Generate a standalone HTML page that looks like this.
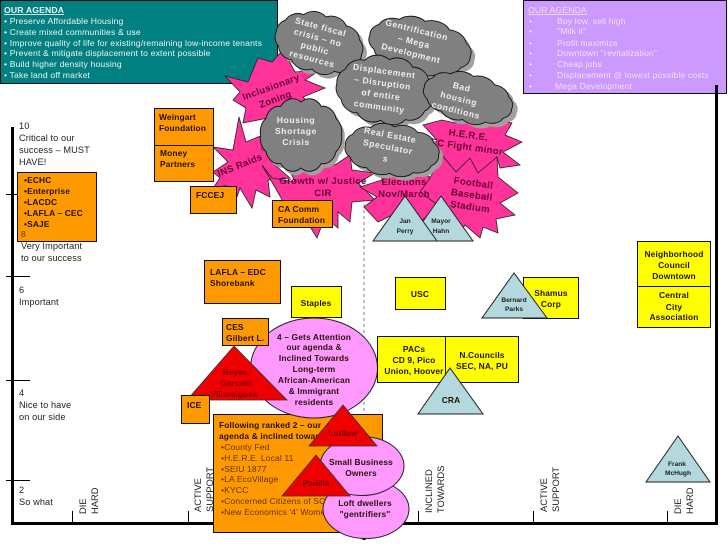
<!DOCTYPE html>
<html><head><meta charset="utf-8">
<style>
html,body{margin:0;padding:0;background:#fff;width:728px;height:546px;overflow:hidden}
svg{display:block}
text{font-family:"Liberation Sans",Arial,sans-serif}
.w{fill:#f2f2f2;font-size:8.65px;letter-spacing:.15px}
.p{fill:#eee0ff;font-size:8.6px;letter-spacing:.15px}
.l{fill:#222;font-size:9.2px;letter-spacing:.1px}
.b{fill:#221100;font-size:8.4px;font-weight:bold;letter-spacing:.15px}
.o{fill:#663300;font-size:8.6px;letter-spacing:.1px}
.c{text-anchor:middle}
.cw{fill:#eee;font-size:8.6px;font-weight:bold;text-anchor:middle;letter-spacing:.6px}
.s{fill:#660033;font-size:9.6px;font-weight:bold;text-anchor:middle;letter-spacing:.3px}
.t{fill:#222;font-size:6.6px;font-weight:bold;text-anchor:middle}
.r{fill:#222;font-size:9.4px}
.box{fill:#ff9900;stroke:#111;stroke-width:1}
.y{fill:#ffff00;stroke:#111;stroke-width:1}
.st{fill:#ff3399;stroke:#222;stroke-width:.8}
.tb{fill:#b3d8de;stroke:#222;stroke-width:1}
.tr{fill:#ee0000;stroke:#333;stroke-width:.8}
.el{fill:#ff99ff;stroke:#222;stroke-width:1}
.cl{fill:#808080;stroke:#111;stroke-width:.9}
.sh{fill:#a0a0a0;stroke:none}
</style></head><body>
<svg width="728" height="546" viewBox="0 0 728 546" xmlns="http://www.w3.org/2000/svg">
<defs>
<path id="c" vector-effect="non-scaling-stroke" d="M5 35A15 15 0 0 1 11 20A15 15 0 0 1 27.500 9A16 16 0 0 1 50 5A16 16 0 0 1 72.500 9A15 15 0 0 1 89 20A15 15 0 0 1 95 35A15 15 0 0 1 89 50A15 15 0 0 1 72.500 61A16 16 0 0 1 50 65A16 16 0 0 1 27.500 61A15 15 0 0 1 11 50A15 15 0 0 1 5 35Z"/>
</defs>
<rect width="728" height="546" fill="#fff"/>

<!-- axes -->
<g stroke="#000" fill="none">
<path d="M12.500 127V523.500H716.500V85" stroke-width="3"/>
<path d="M6 194.500H30M6 276.500H30M6 380.500H30M6 480.500H30" stroke-width="1"/>
<path d="M72.500 511V522M188.500 511V522M418.500 511V522M533.500 511V522M667.500 511V522" stroke-width="1"/>
<path d="M364 180V420" stroke="#aaa" stroke-width="1.500" stroke-dasharray="3 3"/>
<path d="M364 523V540" stroke-width="3"/>
</g>

<!-- axis labels -->
<g class="l">
<text x="19" y="129" class="l">10</text>
<text x="19" y="141" class="l">Critical to our</text>
<text x="19" y="153" class="l">success – MUST</text>
<text x="19" y="165" class="l">HAVE!</text>
<text x="21" y="249" class="l">Very Important</text>
<text x="21" y="261" class="l">to our success</text>
<text x="19" y="293" class="l">6</text>
<text x="19" y="305" class="l">Important</text>
<text x="19" y="396" class="l">4</text>
<text x="19" y="408" class="l">Nice to have</text>
<text x="19" y="420" class="l">on our side</text>
<text x="19" y="493" class="l">2</text>
<text x="19" y="505" class="l">So what</text>
</g>
<g class="r">
<text transform="translate(86 514) rotate(-90)" class="r">DIE</text>
<text transform="translate(98 514) rotate(-90)" class="r">HARD</text>
<text transform="translate(201 512) rotate(-90)" class="r">ACTIVE</text>
<text transform="translate(213 512) rotate(-90)" class="r">SUPPORT</text>
<text transform="translate(432 513) rotate(-90)" class="r">INCLINED</text>
<text transform="translate(444 513) rotate(-90)" class="r">TOWARDS</text>
<text transform="translate(547 512) rotate(-90)" class="r">ACTIVE</text>
<text transform="translate(559 512) rotate(-90)" class="r">SUPPORT</text>
<text transform="translate(681 514) rotate(-90)" class="r">DIE</text>
<text transform="translate(693 514) rotate(-90)" class="r">HARD</text>
</g>

<!-- agenda boxes -->
<rect x="0.500" y="0.500" width="277" height="83" fill="#008080" stroke="#111"/>
<g class="w">
<text x="4" y="13" font-weight="bold" text-decoration="underline" class="w">OUR AGENDA</text>
<text x="4" y="24" class="w">• Preserve Affordable Housing</text>
<text x="4" y="35" class="w">• Create mixed communities &amp; use</text>
<text x="4" y="46" class="w">• Improve quality of life for existing/remaining low-income tenants</text>
<text x="4" y="56" class="w">• Prevent &amp; mitigate displacement to extent possible</text>
<text x="4" y="67" class="w">• Build higher density housing</text>
<text x="4" y="78" class="w">• Take land off market</text>
</g>
<rect x="523.500" y="0.500" width="203" height="93" fill="#cc99ff" stroke="#111"/>
<g>
<text x="528" y="13" text-decoration="underline" class="p">OUR AGENDA</text>
<text x="529" y="24" class="p">•</text><text x="557" y="24" class="p">Buy low, sell high</text>
<text x="529" y="34" class="p">•</text><text x="557" y="34" class="p">"Milk it"</text>
<text x="529" y="46" class="p">•</text><text x="557" y="46" class="p">Profit maximize</text>
<text x="529" y="56" class="p">•</text><text x="557" y="56" class="p">Downtown "revitalization"</text>
<text x="529" y="67" class="p">•</text><text x="557" y="67" class="p">Cheap jobs</text>
<text x="529" y="78" class="p">•</text><text x="557" y="78" class="p">Displacement @ lowest possible costs</text>
<text x="529" y="89" class="p">•</text><text x="555" y="89" class="p">Mega Development</text>
</g>
<path d="M716.500 85V94" stroke="#000" stroke-width="3"/>

<!-- stars -->
<polygon class="st" points="225,76 248,82 258,58 272,62 283,50 295,72 320,70 305,80 325,88 303,97 315,110 292,108 285,125 268,118 243,123 246,108 233,100 240,92"/>
<polygon class="st" points="239,117 246,142 263,135 262,150 285,150 275,165 290,178 268,180 270,197 256,190 252,208 240,188 237,197 226,185 212,190 220,178 213,172 228,162 213,147 233,150"/>
<polygon class="st" points="272,178 295,182 285,160 310,170 320,150 335,165 350,155 352,170 375,173 358,183 375,200 352,202 350,222 338,212 338,228 325,217 317,238 306,220 292,205 290,215 280,196 262,165"/>
<polygon class="st" points="360,187 382,180 380,165 400,172 412,158 420,172 430,177 428,190 440,205 430,215 415,225 420,241 400,235 392,215 378,222 364,207 377,197"/>
<polygon class="st" points="423,125 442,120 455,123 470,115 480,125 495,118 512,123 505,135 522,142 503,152 520,165 500,168 497,157 480,185 455,172 442,155 445,162 432,150 437,140"/>
<polygon class="st" points="430,178 442,155 456,172 470,158 478,173 497,157 498,177 518,193 500,203 515,215 496,219 498,233 483,227 480,238 465,225 455,240 440,228 425,218 438,205 420,192"/>

<!-- star text -->
<text class="s" transform="translate(272 90) rotate(-20)"><tspan x="0" y="0">Inclusionary</tspan><tspan x="0" y="13">Zoning</tspan></text>
<text class="s" transform="translate(241 168) rotate(-22)">INS Raids</text>
<text class="s" x="323" y="184">Growth w/ Justice</text>
<text class="s" x="323" y="196">CIR</text>
<text class="s" x="404" y="185">Elections</text>
<text class="s" x="404" y="197">Nov/March</text>
<text class="s" transform="translate(468 138) rotate(8)"><tspan x="0" y="0">H.E.R.E.</tspan><tspan x="0" y="12">EC Fight minor</tspan></text>
<text class="s" transform="translate(473 186) rotate(8)"><tspan x="0" y="0">Football</tspan><tspan x="0" y="12">Baseball</tspan><tspan x="0" y="24">Stadium</tspan></text>

<!-- clouds -->
<use href="#c" class="sh" transform="translate(323 47) rotate(15) scale(.98 .9) translate(-50 -35)"/>
<use href="#c" class="cl" transform="translate(319 43) rotate(15) scale(.98 .9) translate(-50 -35)"/>
<use href="#c" class="sh" transform="translate(424 50) rotate(12) scale(1.14 .84) translate(-50 -35)"/>
<use href="#c" class="cl" transform="translate(420 46) rotate(12) scale(1.14 .84) translate(-50 -35)"/>
<use href="#c" class="sh" transform="translate(389 94) rotate(8) scale(1.08 1.02) translate(-50 -35)"/>
<use href="#c" class="cl" transform="translate(385 90) rotate(8) scale(1.08 1.02) translate(-50 -35)"/>
<use href="#c" class="sh" transform="translate(473 102) rotate(14) scale(1 .74) translate(-50 -35)"/>
<use href="#c" class="cl" transform="translate(468 98) rotate(14) scale(1 .74) translate(-50 -35)"/>
<use href="#c" class="sh" transform="translate(304 139) scale(.9 1.1) translate(-50 -35)"/>
<use href="#c" class="cl" transform="translate(301 135) scale(.9 1.1) translate(-50 -35)"/>
<use href="#c" class="sh" transform="translate(396 154) rotate(6) scale(1.04 .78) translate(-50 -35)"/>
<use href="#c" class="cl" transform="translate(392 150) rotate(6) scale(1.04 .78) translate(-50 -35)"/>

<text class="cw" transform="translate(322 22) rotate(15)"><tspan x="0" y="8">State fiscal</tspan><tspan x="0" y="19">crisis – no</tspan><tspan x="0" y="30">public</tspan><tspan x="0" y="41">resources</tspan></text>
<text class="cw" transform="translate(418 25) rotate(14)"><tspan x="0" y="8">Gentrification</tspan><tspan x="0" y="20">– Mega</tspan><tspan x="0" y="32">Development</tspan></text>
<text class="cw" transform="translate(385 66) rotate(8)"><tspan x="0" y="8">Displacement</tspan><tspan x="0" y="20">– Disruption</tspan><tspan x="0" y="32">of entire</tspan><tspan x="0" y="44">community</tspan></text>
<text class="cw" transform="translate(463 82) rotate(14)"><tspan x="0" y="8">Bad</tspan><tspan x="0" y="20">housing</tspan><tspan x="0" y="32">conditions</tspan></text>
<text class="cw" x="296" y="123">Housing</text>
<text class="cw" x="296" y="134">Shortage</text>
<text class="cw" x="296" y="145">Crisis</text>
<text class="cw" transform="translate(390 136) rotate(11)"><tspan x="0" y="2">Real Estate</tspan><tspan x="0" y="14">Speculator</tspan><tspan x="0" y="26">s</tspan></text>

<!-- orange boxes -->
<rect class="box" x="17.500" y="172.500" width="79" height="69"/>
<g class="b">
<text x="24" y="183" class="b">•ECHC</text>
<text x="24" y="194" class="b">•Enterprise</text>
<text x="24" y="205" class="b">•LACDC</text>
<text x="24" y="216" class="b">•LAFLA – CEC</text>
<text x="24" y="227" class="b">•SAJE</text>
</g>
<text x="21" y="237" class="o">8</text>
<rect class="box" x="154.500" y="108.500" width="59" height="37"/>
<rect class="box" x="154.500" y="145.500" width="59" height="36"/>
<text class="b" x="159" y="120">Weingart</text>
<text class="b" x="159" y="131">Foundation</text>
<text class="b" x="160" y="156">Money</text>
<text class="b" x="160" y="167">Partners</text>
<rect class="box" x="190.500" y="186.500" width="46" height="27"/>
<text class="b" x="196" y="198">FCCEJ</text>
<rect class="box" x="272.500" y="200.500" width="60" height="27"/>
<text class="b" x="278" y="212">CA Comm</text>
<text class="b" x="278" y="223">Foundation</text>
<rect class="box" x="204.500" y="260.500" width="76" height="43"/>
<text class="b" x="210" y="275">LAFLA – EDC</text>
<text class="b" x="210" y="286">Shorebank</text>

<!-- lower orange -->
<rect class="box" x="213.500" y="414.500" width="169" height="118"/>
<text class="b" x="219" y="428">Following ranked 2 – our</text>
<text class="b" x="219" y="439">agenda &amp; inclined towards</text>
<text class="o" x="221" y="450">•County Fed</text>
<text class="o" x="221" y="461">•H.E.R.E. Local 11</text>
<text class="o" x="221" y="472">•SEIU 1877</text>
<text class="o" x="221" y="482">•LA EcoVillage</text>
<text class="o" x="221" y="493">•KYCC</text>
<text class="o" x="221" y="504">•Concerned Citizens of SC</text>
<text class="o" x="221" y="515">•New Economics '4' Women</text>

<!-- ellipse 4 -->
<ellipse class="el" cx="314" cy="368" rx="63.500" ry="50"/>
<g class="b">
<text class="b c" x="314" y="340">4 – Gets Attention</text>
<text class="b c" x="314" y="350">our agenda &amp;</text>
<text class="b c" x="314" y="361">Inclined Towards</text>
<text class="b c" x="314" y="372">Long-term</text>
<text class="b c" x="314" y="383">African-American</text>
<text class="b c" x="314" y="394">&amp; Immigrant</text>
<text class="b c" x="314" y="405">residents</text>
</g>
<rect class="box" x="222.500" y="318.500" width="46" height="27"/>
<text class="b" x="226" y="330">CES</text>
<text class="b" x="226" y="341">Gilbert L.</text>
<polygon class="tr" points="234,346 187,400 287,400"/>
<g fill="#8a0000" font-size="8.400" font-weight="bold" text-anchor="middle">
<text x="236" y="375">Reyes,</text>
<text x="236" y="386">Garcetti</text>
<text x="234" y="397">Villaraigosa</text>
</g>
<rect class="box" x="181.500" y="395.500" width="28" height="28"/>
<text class="b" x="187" y="408">ICE</text>

<ellipse class="el" cx="366" cy="509" rx="43" ry="29.500"/>
<ellipse class="el" cx="362" cy="466" rx="42" ry="29.500"/>
<polygon class="tr" points="343,405 309,446 377,446"/>
<polygon class="tr" points="316,455 282,496 350,496"/>
<text x="343" y="436" fill="#7a0000" font-size="8.400" font-weight="bold" text-anchor="middle">Ludlow</text>
<text x="316" y="486" fill="#7a0000" font-size="8.400" font-weight="bold" text-anchor="middle">Padilla</text>
<text class="b c" x="361" y="465">Small Business</text>
<text class="b c" x="361" y="476">Owners</text>
<text class="b c" x="365" y="506">Loft dwellers</text>
<text class="b c" x="365" y="517">"gentrifiers"</text>

<!-- yellow boxes -->
<rect class="y" x="291.500" y="286.500" width="50" height="31"/>
<text class="b c" x="316" y="306">Staples</text>
<rect class="y" x="395.500" y="277.500" width="50" height="32"/>
<text class="b c" x="420" y="297">USC</text>
<rect class="y" x="523.500" y="277.500" width="55" height="41"/>
<text class="b c" x="551" y="296">Shamus</text>
<text class="b c" x="551" y="307">Corp</text>
<rect class="y" x="377.500" y="336.500" width="69" height="46"/>
<rect class="y" x="445.500" y="336.500" width="73" height="46"/>
<text class="b c" x="414" y="352">PACs</text>
<text class="b c" x="414" y="363">CD 9, Pico</text>
<text class="b c" x="414" y="374">Union, Hoover</text>
<text class="b c" x="482" y="358">N.Councils</text>
<text class="b c" x="482" y="369">SEC, NA, PU</text>
<rect class="y" x="637.500" y="241.500" width="73" height="45"/>
<rect class="y" x="637.500" y="286.500" width="73" height="41"/>
<text class="b c" x="674" y="257">Neighborhood</text>
<text class="b c" x="674" y="268">Council</text>
<text class="b c" x="674" y="279">Downtown</text>
<text class="b c" x="674" y="298">Central</text>
<text class="b c" x="674" y="310">City</text>
<text class="b c" x="674" y="320">Association</text>

<!-- blue triangles -->
<polygon class="tb" points="441,196 409,241 473,241"/>
<polygon class="tb" points="405,196 373,241 437,241"/>
<text class="t" x="405" y="223">Jan</text>
<text class="t" x="405" y="233">Perry</text>
<text class="t" x="441" y="223">Mayor</text>
<text class="t" x="441" y="233">Hahn</text>
<polygon class="tb" points="514,273 482,318 547,318"/>
<text class="t" x="514" y="302">Bernard</text>
<text class="t" x="514" y="311">Parks</text>
<polygon class="tb" points="450,368 418,414 483,414"/>
<text class="b c" x="451" y="403">CRA</text>
<polygon class="tb" points="678,436 646,482 710,482"/>
<text class="t" x="677" y="466">Frank</text>
<text class="t" x="678" y="475">McHugh</text>
</svg>
</body></html>
